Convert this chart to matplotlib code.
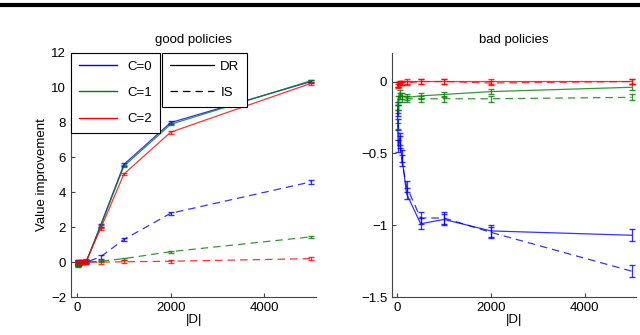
import numpy as np
import matplotlib
matplotlib.use('Agg')
import matplotlib.pyplot as plt
from matplotlib.lines import Line2D

plt.rcParams['font.family'] = ['Liberation Sans', 'DejaVu Sans']
plt.rcParams['font.size'] = 9.5

n = [10, 20, 50, 100, 200, 500, 1000, 2000, 5000]

# good policies
good_dr = {
    0: [0.0, 0.0, -0.05, 0.0, 0.05, 2.1, 5.6, 8.0, 10.35],
    1: [-0.1, -0.1, -0.05, 0.0, 0.05, 2.05, 5.5, 7.9, 10.4],
    2: [0.0, 0.0, 0.0, 0.05, 0.1, 1.9, 5.05, 7.45, 10.25],
}
good_is = {
    0: [-0.1, -0.1, -0.05, 0.0, 0.0, 0.3, 1.3, 2.8, 4.6],
    1: [-0.2, -0.15, -0.1, -0.05, 0.0, 0.05, 0.2, 0.6, 1.45],
    2: [0.0, 0.0, 0.0, 0.0, 0.0, 0.0, 0.02, 0.05, 0.2],
}
good_err = {0: 0.1, 1: 0.06, 2: 0.08}

# bad policies
bad_dr = {
    0: [-0.2, -0.45, -0.4, -0.52, -0.78, -0.99, -0.96, -1.04, -1.07],
    1: [-0.18, -0.12, -0.08, -0.1, -0.11, -0.1, -0.09, -0.07, -0.04],
    2: [-0.03, -0.02, -0.01, -0.01, 0.0, 0.0, 0.0, 0.0, 0.0],
}
bad_is = {
    0: [-0.18, -0.3, -0.42, -0.55, -0.73, -0.95, -0.95, -1.05, -1.32],
    1: [-0.31, -0.18, -0.1, -0.12, -0.12, -0.12, -0.12, -0.12, -0.11],
    2: [-0.02, -0.02, -0.01, -0.01, -0.01, 0.0, 0.0, -0.01, 0.0],
}
bad_err = {0: 0.04, 1: 0.02, 2: 0.015}

colors = {0: '#0000ff', 1: '#008000', 2: '#ff0000'}

fig = plt.figure(figsize=(6.4, 3.35), dpi=100)
# thick black bar at the top of the page crop
fig.add_artist(Line2D([0, 1], [0.984, 0.984], color='black', lw=3, transform=fig.transFigure))

ax1 = fig.add_axes([0.111, 0.1134, 0.383, 0.729])
ax2 = fig.add_axes([0.6125, 0.1134, 0.381, 0.729])

for ax, dr, is_, err in [(ax1, good_dr, good_is, good_err), (ax2, bad_dr, bad_is, bad_err)]:
    for c in [0, 1, 2]:
        ax.errorbar(n, dr[c], yerr=err[c], color=colors[c], lw=0.9, elinewidth=0.9,
                    capsize=2.5, alpha=0.8)
        ax.errorbar(n, is_[c], yerr=err[c], color=colors[c], lw=0.9, elinewidth=0.9,
                    capsize=2.5, dashes=(6, 4), alpha=0.8)
    for s in ['top', 'right']:
        ax.spines[s].set_visible(False)
    for s in ['left', 'bottom']:
        ax.spines[s].set_color('#444444')
    ax.tick_params(direction='in', length=3, color='#444444', labelsize=9.5)
    ax.set_xlabel('|D|', labelpad=0)
    ax.set_xticks([0, 2000, 4000])

ax1.set_xlim(-130, 5110)
ax1.set_ylim(-2, 12)
ax1.set_yticks(range(-2, 13, 2))
ax1.set_ylabel('Value improvement', labelpad=2)
ax1.set_title('good policies', fontsize=9.5, pad=7)

ax2.set_xlim(-110, 5090)
ax2.set_ylim(-1.5, 0.2)
ax2.set_yticks([-1.5, -1, -0.5, 0])
ax2.set_yticklabels(['\u22121.5', '\u22121', '\u22120.5', '0'])
ax2.set_title('bad policies', fontsize=9.5, pad=7)

h_c = [Line2D([], [], color=colors[c], lw=1) for c in [0, 1, 2]]
leg1 = ax1.legend(h_c, ['C=0', 'C=1', 'C=2'], loc='upper left', bbox_to_anchor=(0.0, 1.0),
                  fancybox=False, edgecolor='black', framealpha=1, borderaxespad=0,
                  handlelength=2.9, fontsize=9.5, labelspacing=1.05, borderpad=0.6)
leg1.get_frame().set_linewidth(0.8)
ax1.add_artist(leg1)
h_s = [Line2D([], [], color='black', lw=0.9), Line2D([], [], color='black', lw=0.9, dashes=(6, 4))]
leg2 = ax1.legend(h_s, ['DR', 'IS'], loc='upper left', bbox_to_anchor=(0.372, 1.0),
                  fancybox=False, edgecolor='black', framealpha=1, borderaxespad=0,
                  handlelength=3.3, handletextpad=0.5, fontsize=9.5, labelspacing=1.05,
                  borderpad=0.6)
leg2.get_frame().set_linewidth(0.8)

fig.savefig('out.png', dpi=100)
